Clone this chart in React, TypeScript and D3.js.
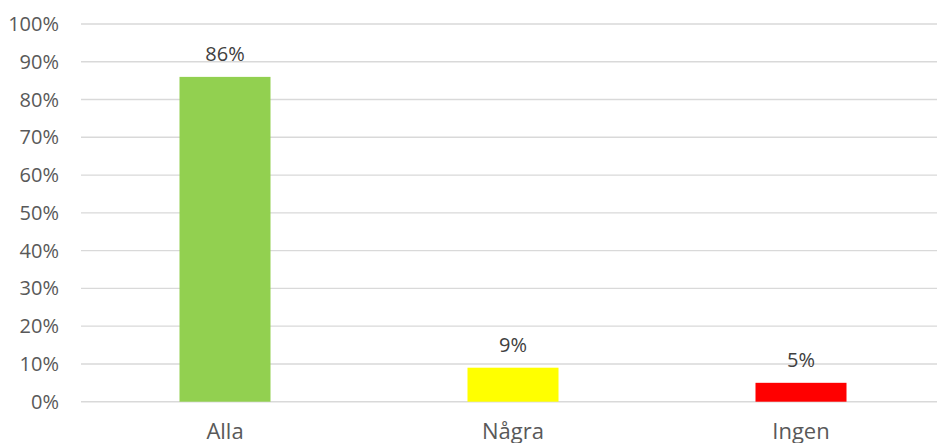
import React from "react";
import * as d3 from "d3";

const categories = ["Alla", "Några", "Ingen"];
const values = [86, 9, 5];
const barColors = ["#92D050", "#FFFF00", "#FF0000"];
const yTicks = [0, 10, 20, 30, 40, 50, 60, 70, 80, 90, 100];

const W = 937;
const H = 443;
const left = 81;
const right = 945;
const y0 = 401.7;
const y100 = 24;

export default function App() {
  const x = d3
    .scaleBand<string>()
    .domain(categories)
    .range([left, right])
    .paddingInner(0.684)
    .paddingOuter(0.342);
  const y = d3.scaleLinear().domain([0, 100]).range([y0, y100]);
  const font = "'Open Sans', sans-serif";
  return (
    <svg
      width={W}
      height={H}
      style={{ position: "fixed", left: 0, top: 0, background: "#fff" }}
    >
      {yTicks.map((t) => (
        <g key={t}>
          <line x1={left} x2={W} y1={y(t)} y2={y(t)} stroke="#d9d9d9" strokeWidth={1.4} />
          <text
            x={59}
            y={y(t)}
            dy="0.35em"
            textAnchor="end"
            fontFamily={font}
            fontSize={20}
            fill="#595959"
          >
            {t}%
          </text>
        </g>
      ))}
      {categories.map((c, i) => (
        <g key={c}>
          <rect
            x={x(c)}
            y={y(values[i])}
            width={x.bandwidth()}
            height={y0 - y(values[i])}
            fill={barColors[i]}
          />
          <text
            x={(x(c) ?? 0) + x.bandwidth() / 2}
            y={y(values[i]) - 16}
            textAnchor="middle"
            fontFamily={font}
            fontSize={20}
            fill="#404040"
          >
            {values[i]}%
          </text>
          <text
            x={(x(c) ?? 0) + x.bandwidth() / 2}
            y={439}
            textAnchor="middle"
            fontFamily={font}
            fontSize={22}
            fill="#595959"
          >
            {c}
          </text>
        </g>
      ))}
    </svg>
  );
}
